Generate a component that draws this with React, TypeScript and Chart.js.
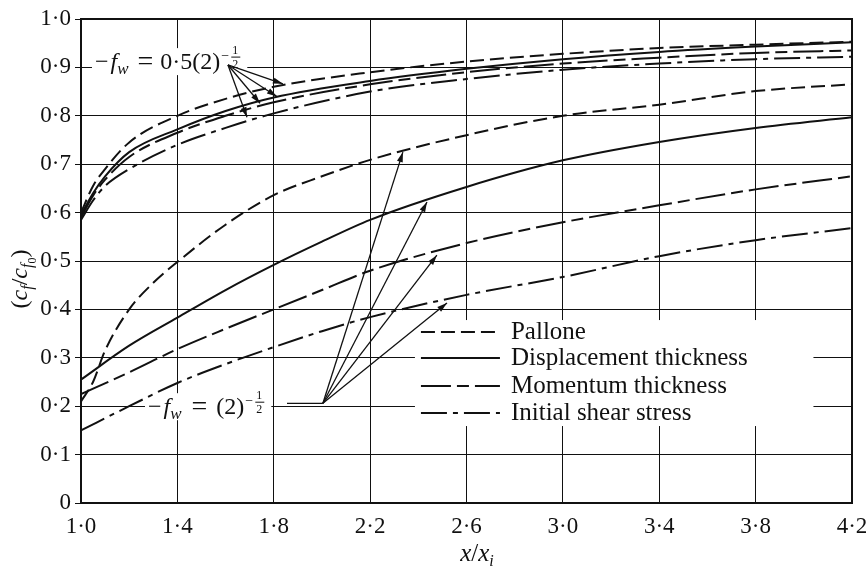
import React, { useEffect, useRef } from "react";
import { Chart, registerables } from "chart.js";

Chart.register(...registerables);

// ---------- data ----------
const xTickValues = [1.0, 1.4, 1.8, 2.2, 2.6, 3.0, 3.4, 3.8, 4.2];
const yTickValues = [0, 0.1, 0.2, 0.3, 0.4, 0.5, 0.6, 0.7, 0.8, 0.9, 1.0];

const seriesNames = ["Pallone", "Displacement thickness", "Momentum thickness", "Initial shear stress"];

// upper family: −f_w = 0·5(2)^−½
const upperX = [1.0, 1.05, 1.1, 1.2, 1.4, 1.6, 1.8, 2.2, 2.6, 3.0, 3.4, 3.8, 4.2];
const upperPallone = [0.6, 0.655, 0.69, 0.745, 0.8, 0.835, 0.86, 0.89, 0.912, 0.928, 0.94, 0.947, 0.953];
const upperDisplacement = [0.595, 0.64, 0.675, 0.725, 0.772, 0.81, 0.838, 0.872, 0.897, 0.917, 0.932, 0.943, 0.952];
const upperMomentum = [0.59, 0.635, 0.668, 0.715, 0.765, 0.8, 0.828, 0.865, 0.89, 0.908, 0.92, 0.93, 0.935];
const upperShear = [0.585, 0.625, 0.655, 0.69, 0.74, 0.775, 0.805, 0.85, 0.876, 0.895, 0.908, 0.917, 0.922];

// lower family: −f_w = (2)^−½
const lowerPalloneX = [1.0, 1.05, 1.1, 1.2, 1.3, 1.4, 1.6, 1.8, 2.0, 2.2, 2.6, 3.0, 3.4, 3.8, 4.2];
const lowerPallone = [0.21, 0.25, 0.315, 0.4, 0.455, 0.498, 0.575, 0.636, 0.675, 0.709, 0.76, 0.8, 0.823, 0.851, 0.865];
const lowerX = [1.0, 1.2, 1.4, 1.6, 1.8, 2.0, 2.2, 2.6, 3.0, 3.4, 3.8, 4.2];
const lowerDisplacement = [0.255, 0.325, 0.383, 0.44, 0.492, 0.54, 0.585, 0.653, 0.708, 0.746, 0.775, 0.797];
const lowerMomentum = [0.225, 0.27, 0.318, 0.36, 0.4, 0.44, 0.48, 0.537, 0.58, 0.615, 0.648, 0.675];
const lowerShear = [0.15, 0.2, 0.248, 0.287, 0.322, 0.355, 0.384, 0.43, 0.467, 0.51, 0.543, 0.568];

// annotation anchors (data coordinates)
const upperLabelAt = [1.058, 0.913];
const lowerLabelAt = [1.278, 0.2];
const upperFanFrom = [1.61, 0.905];
const upperFanTo = [[1.838, 0.866], [1.813, 0.84], [1.743, 0.826], [1.689, 0.797]];
const lowerLeaderFrom = [1.855, 0.206];
const lowerFanFrom = [2.004, 0.206];
const lowerFanTo = [[2.336, 0.725], [2.436, 0.622], [2.477, 0.512], [2.519, 0.413]];
const legendBoxX = [2.386, 4.04];
const legendBoxY = [0.378, 0.159];

// ---------- styles ----------
const FONT = '"Liberation Serif", "DejaVu Serif", serif';
const seriesDash: number[][] = [[14, 6], [], [30, 6, 12, 6], [26, 6, 5, 6]];
const INK = "#111";

const fmt = (v: number) => (v === 0 ? "0" : v.toFixed(1).replace(".", "·"));

type Part = { t?: string; gap?: number; italic?: boolean; size?: number; dy?: number };

function partsWidth(ctx: CanvasRenderingContext2D, parts: Part[], base: number) {
  let w = 0;
  for (const p of parts) {
    if (p.gap) { w += p.gap; continue; }
    ctx.font = `${p.italic ? "italic " : ""}${p.size || base}px ${FONT}`;
    w += ctx.measureText(p.t || "").width;
  }
  return w;
}

function drawParts(ctx: CanvasRenderingContext2D, parts: Part[], x: number, y: number, base: number) {
  let cx = x;
  ctx.textBaseline = "alphabetic";
  ctx.textAlign = "left";
  for (const p of parts) {
    if (p.gap) { cx += p.gap; continue; }
    ctx.font = `${p.italic ? "italic " : ""}${p.size || base}px ${FONT}`;
    ctx.fillText(p.t || "", cx, y + (p.dy || 0));
    cx += ctx.measureText(p.t || "").width;
  }
  return cx;
}

function drawSupHalf(ctx: CanvasRenderingContext2D, x: number, base: number) {
  ctx.font = `14px ${FONT}`;
  ctx.textBaseline = "alphabetic";
  ctx.textAlign = "left";
  ctx.fillText("−", x + 1, base - 9);
  const fx = x + 12;
  ctx.font = `12px ${FONT}`;
  ctx.fillText("1", fx, base - 15);
  ctx.fillText("2", fx, base - 1);
  ctx.beginPath();
  ctx.lineWidth = 1;
  ctx.moveTo(fx - 1, base - 12);
  ctx.lineTo(fx + 8, base - 12);
  ctx.stroke();
  return fx + 10;
}

function arrow(ctx: CanvasRenderingContext2D, x0: number, y0: number, x1: number, y1: number) {
  ctx.beginPath();
  ctx.moveTo(x0, y0);
  ctx.lineTo(x1, y1);
  ctx.stroke();
  const a = Math.atan2(y1 - y0, x1 - x0);
  const L = 10, W = 3;
  ctx.beginPath();
  ctx.moveTo(x1, y1);
  ctx.lineTo(x1 - L * Math.cos(a) + W * Math.sin(a), y1 - L * Math.sin(a) - W * Math.cos(a));
  ctx.lineTo(x1 - L * Math.cos(a) - W * Math.sin(a), y1 - L * Math.sin(a) + W * Math.cos(a));
  ctx.closePath();
  ctx.fill();
}

const upperParts: Part[] = [
  { t: "−" },
  { gap: 2 },
  { t: "f", italic: true },
  { t: "w", italic: true, size: 17, dy: 5 },
  { gap: 9 },
  { t: "=", size: 28, dy: 1 },
  { gap: 7 },
  { t: "0·5(2)" },
];
const lowerParts: Part[] = [
  { t: "−" },
  { gap: 2 },
  { t: "f", italic: true },
  { t: "w", italic: true, size: 17, dy: 5 },
  { gap: 10 },
  { t: "=", size: 28, dy: 1 },
  { gap: 9 },
  { t: "(2)" },
];
const LABEL_SIZE = 24;

const annotPlugin = {
  id: "annot",
  beforeDatasetsDraw(chart: any) {
    const { ctx, scales, chartArea: ca } = chart;
    const X = (v: number) => scales.x.getPixelForValue(v);
    const Y = (v: number) => scales.y.getPixelForValue(v);
    ctx.save();
    ctx.fillStyle = "#fff";
    // legend box
    ctx.fillRect(X(legendBoxX[0]), Y(legendBoxY[0]), X(legendBoxX[1]) - X(legendBoxX[0]), Y(legendBoxY[1]) - Y(legendBoxY[0]));
    // label backgrounds
    const uw = partsWidth(ctx, upperParts, LABEL_SIZE) + 24;
    ctx.fillRect(X(upperLabelAt[0]) - 3, Y(upperLabelAt[1]) - 13, uw + 6, 27);
    const lw = partsWidth(ctx, lowerParts, LABEL_SIZE) + 24;
    ctx.fillRect(X(lowerLabelAt[0]) - 3, Y(lowerLabelAt[1]) - 13, lw + 6, 27);
    // frame
    ctx.strokeStyle = INK;
    ctx.lineWidth = 2;
    ctx.strokeRect(ca.left, ca.top, ca.right - ca.left, ca.bottom - ca.top);
    ctx.restore();
  },
  afterDatasetsDraw(chart: any) {
    const { ctx, scales } = chart;
    const X = (v: number) => scales.x.getPixelForValue(v);
    const Y = (v: number) => scales.y.getPixelForValue(v);
    ctx.save();
    ctx.fillStyle = INK;
    ctx.strokeStyle = INK;

    // upper label
    const ux = X(upperLabelAt[0]);
    const uy = Y(upperLabelAt[1]) + 8;
    let e = drawParts(ctx, upperParts, ux, uy, LABEL_SIZE);
    drawSupHalf(ctx, e, uy);

    // lower label
    const lx = X(lowerLabelAt[0]);
    const ly = Y(lowerLabelAt[1]) + 8;
    e = drawParts(ctx, lowerParts, lx, ly, LABEL_SIZE);
    drawSupHalf(ctx, e, ly);

    // arrows
    ctx.lineWidth = 1.3;
    for (const t of upperFanTo) arrow(ctx, X(upperFanFrom[0]), Y(upperFanFrom[1]), X(t[0]), Y(t[1]));
    ctx.beginPath();
    ctx.moveTo(X(lowerLeaderFrom[0]), Y(lowerLeaderFrom[1]));
    ctx.lineTo(X(lowerFanFrom[0]), Y(lowerFanFrom[1]));
    ctx.stroke();
    for (const t of lowerFanTo) arrow(ctx, X(lowerFanFrom[0]), Y(lowerFanFrom[1]), X(t[0]), Y(t[1]));

    // legend
    const bx = X(legendBoxX[0]);
    const by = Y(legendBoxY[0]);
    const rows = [12, 38, 66, 93];
    seriesNames.forEach((name, i) => {
      const yy = by + rows[i];
      ctx.lineWidth = 2;
      ctx.setLineDash(seriesDash[i]);
      ctx.beginPath();
      ctx.moveTo(bx + 6, yy);
      ctx.lineTo(bx + 85, yy);
      ctx.stroke();
      ctx.setLineDash([]);
      ctx.font = `25px ${FONT}`;
      ctx.textBaseline = "middle";
      ctx.textAlign = "left";
      ctx.fillText(name, bx + 96, yy);
    });

    // axis titles
    const yt: Part[] = [
      { t: "(" },
      { t: "c", italic: true },
      { t: "f", italic: true, size: 16, dy: 5 },
      { t: "/" },
      { t: "c", italic: true },
      { t: "f", italic: true, size: 16, dy: 5 },
      { t: "0", size: 12, dy: 9 },
      { t: ")" },
    ];
    ctx.save();
    ctx.translate(27, 279);
    ctx.rotate(-Math.PI / 2);
    const yw = partsWidth(ctx, yt, 24);
    drawParts(ctx, yt, -yw / 2, 0, 24);
    ctx.restore();

    const xt: Part[] = [
      { t: "x", italic: true },
      { t: "/" },
      { t: "x", italic: true },
      { t: "i", italic: true, size: 16, dy: 5 },
    ];
    const xw = partsWidth(ctx, xt, 25);
    drawParts(ctx, xt, 477 - xw / 2, 561, 25);
    ctx.restore();
  },
};

const lineStyle = (i: number) => ({
  borderColor: INK,
  borderWidth: 2,
  borderDash: seriesDash[i],
  pointRadius: 0,
  fill: false,
  cubicInterpolationMode: "monotone" as const,
});

const toPts = (xs: number[], ys: number[]) => xs.map((x, k) => ({ x, y: ys[k] }));

export default function App() {
  const ref = useRef<HTMLCanvasElement | null>(null);
  useEffect(() => {
    if (!ref.current) return;
    const chart = new Chart(ref.current, {
      type: "line",
      data: {
        datasets: [
          { label: seriesNames[0] + " (upper)", data: toPts(upperX, upperPallone), ...lineStyle(0) },
          { label: seriesNames[1] + " (upper)", data: toPts(upperX, upperDisplacement), ...lineStyle(1) },
          { label: seriesNames[2] + " (upper)", data: toPts(upperX, upperMomentum), ...lineStyle(2) },
          { label: seriesNames[3] + " (upper)", data: toPts(upperX, upperShear), ...lineStyle(3) },
          { label: seriesNames[0], data: toPts(lowerPalloneX, lowerPallone), ...lineStyle(0) },
          { label: seriesNames[1], data: toPts(lowerX, lowerDisplacement), ...lineStyle(1) },
          { label: seriesNames[2], data: toPts(lowerX, lowerMomentum), ...lineStyle(2) },
          { label: seriesNames[3], data: toPts(lowerX, lowerShear), ...lineStyle(3) },
        ],
      },
      options: {
        responsive: false,
        animation: false,
        devicePixelRatio: 1,
        layout: { padding: { left: 0, right: 14, top: 19, bottom: 0 } },
        plugins: { legend: { display: false }, tooltip: { enabled: false } },
        scales: {
          x: {
            type: "linear",
            min: 1,
            max: 4.2,
            afterBuildTicks: (s: any) => {
              s.ticks = xTickValues.map((v) => ({ value: v }));
            },
            afterFit: (s: any) => {
              s.height = 66;
              s.paddingLeft = 0;
              s.paddingRight = 0;
            },
            grid: { color: INK, lineWidth: 1, tickLength: 0, drawTicks: false },
            border: { display: true, color: INK, width: 2 },
            ticks: {
              color: INK,
              padding: 10,
              maxRotation: 0,
              autoSkip: false,
              font: { family: FONT, size: 23 },
              callback: (v: any) => fmt(Number(v)),
            },
          },
          y: {
            type: "linear",
            min: 0,
            max: 1,
            afterBuildTicks: (s: any) => {
              s.ticks = yTickValues.map((v) => ({ value: v }));
            },
            afterFit: (s: any) => {
              s.width = 81;
              s.paddingTop = 0;
              s.paddingBottom = 0;
            },
            grid: { color: INK, lineWidth: 1, tickLength: 6 },
            border: { display: true, color: INK, width: 2 },
            ticks: {
              color: INK,
              padding: 4,
              autoSkip: false,
              font: { family: FONT, size: 23 },
              callback: (v: any) => fmt(Number(v)),
            },
          },
        },
      },
      plugins: [annotPlugin],
    });
    return () => chart.destroy();
  }, []);
  return (
    <div style={{ position: "fixed", left: 0, top: 0, width: 866, height: 569, background: "#fff" }}>
      <canvas ref={ref} width={866} height={569} style={{ display: "block" }} />
    </div>
  );
}
